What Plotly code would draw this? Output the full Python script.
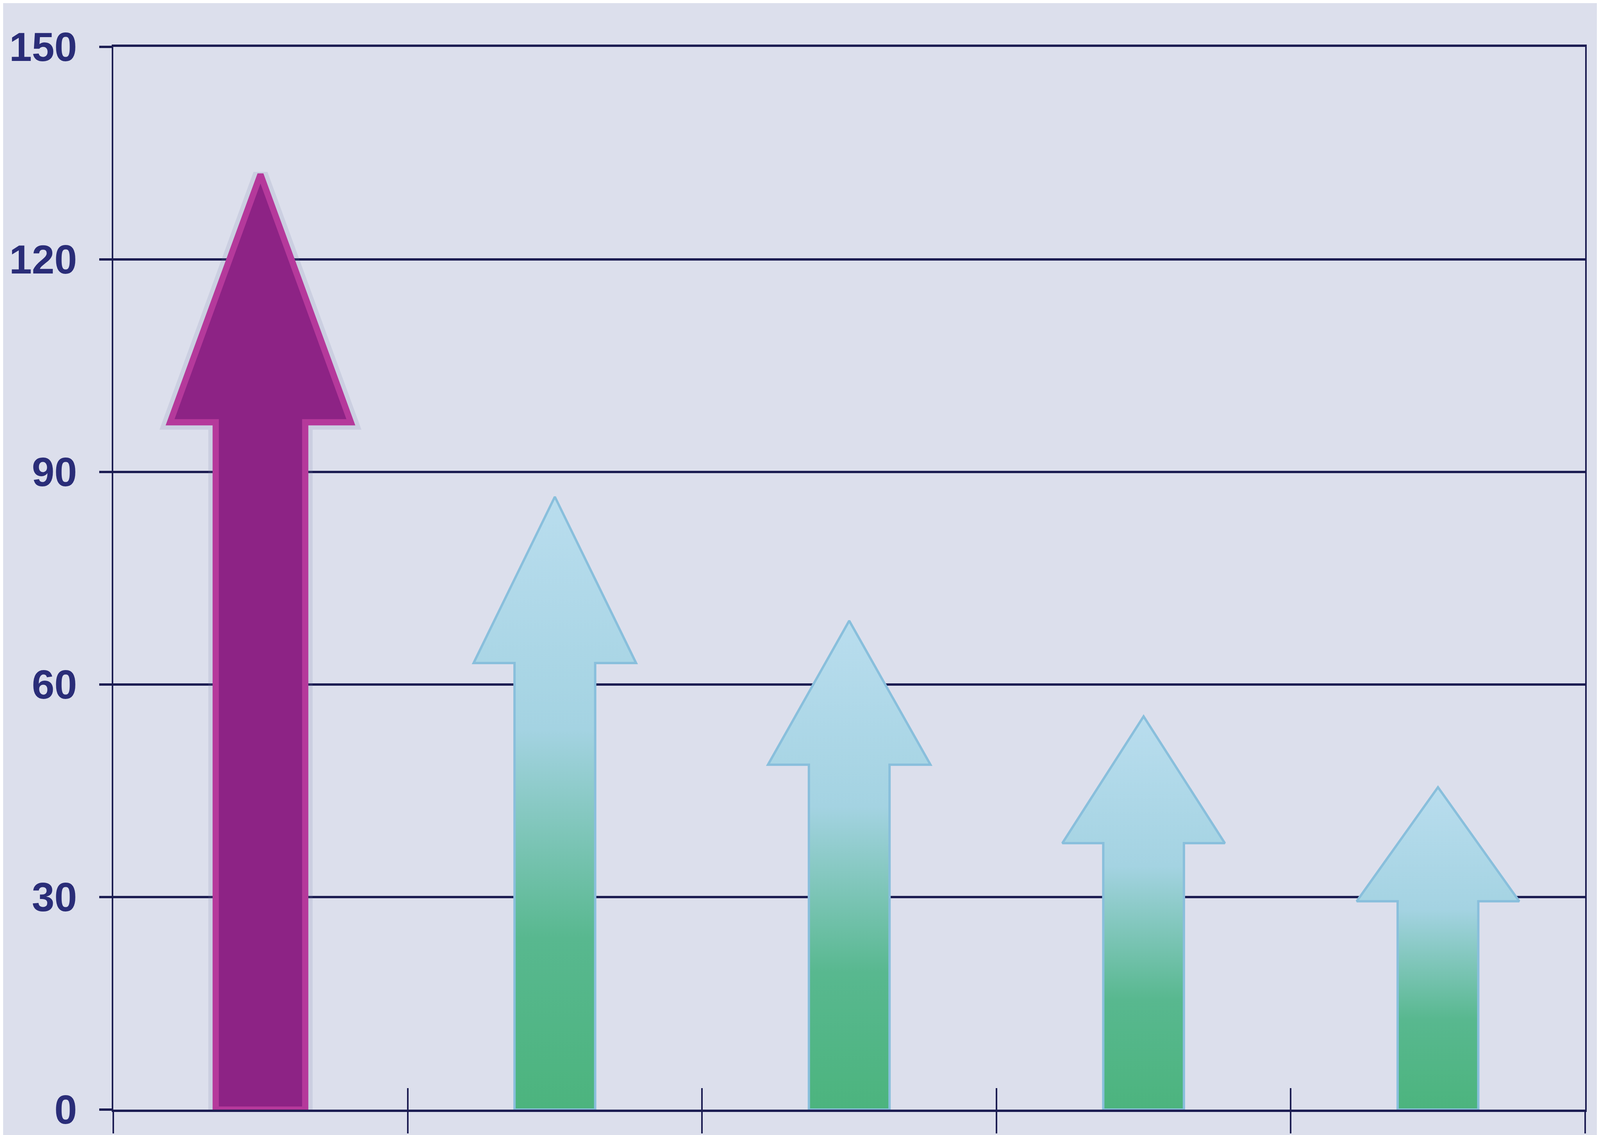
import plotly.graph_objects as go

# ---- data ----
categories = ["Item 1", "Item 2", "Item 3", "Item 4", "Item 5"]
values = [132, 86.5, 69, 55.5, 45.5]
highlight = [True, False, False, False, False]
y_ticks = [0, 30, 60, 90, 120, 150]

# ---- styles ----
W, H = 4096, 2905        # viewport actually available in the browser
SX = W / 6266            # horizontal scale from reference px to page px
BG = "#dcdfec"
GRID = "#1c1d52"
LABEL = "#2a2d78"
PURPLE_FILL = "#8d2385"
PURPLE_EDGE = "#b5399b"
GREEN_EDGE = "#89bfdc"
GREEN_SCALE = [[0.0, "#4cb47e"], [0.28, "#58b88f"], [0.62, "#a4d3e2"], [1.0, "#b9ddee"]]


def arrow_path(i, v, shaft_half, head_half, head_len):
    base = v - head_len
    xs = [i - shaft_half, i - shaft_half, i - head_half, i, i + head_half,
          i + shaft_half, i + shaft_half, i - shaft_half]
    ys = [0, base, base, v, base, base, 0, 0]
    return xs, ys


fig = go.Figure()

for i, (cat, v, hl) in enumerate(zip(categories, values, highlight)):
    if hl:
        xs, ys = arrow_path(i, v, 0.152, 0.307, 0.265 * v)
        # soft shadow
        fig.add_trace(go.Scatter(x=xs, y=ys, mode="lines",
                                 line=dict(color="rgba(120,125,170,0.16)", width=38),
                                 hoverinfo="skip", showlegend=False))
        fig.add_trace(go.Scatter(x=xs, y=ys, mode="lines", fill="toself",
                                 fillcolor=PURPLE_FILL, name=cat,
                                 line=dict(color=PURPLE_EDGE, width=16),
                                 showlegend=False))
    else:
        xs, ys = arrow_path(i, v, 0.137, 0.276, 7.9 + 0.18 * v)
        fig.add_trace(go.Scatter(x=xs, y=ys, mode="lines", fill="toself",
                                 fillgradient=dict(type="vertical", colorscale=GREEN_SCALE),
                                 name=cat,
                                 line=dict(color=GREEN_EDGE, width=6),
                                 showlegend=False))

# helper trace so the overlay axis (inner half of the category ticks) is drawn
fig.add_trace(go.Scatter(x=[None], y=[None], xaxis="x2", hoverinfo="skip", showlegend=False))

n = len(categories)
boundaries = [k - 0.5 for k in range(n + 1)]

fig.update_layout(
    width=W, height=H,
    margin=dict(l=int(432 * SX), r=int(71 * SX), t=112, b=73, pad=0),
    paper_bgcolor=BG, plot_bgcolor=BG,
    showlegend=False,
    xaxis=dict(range=[-0.5, n - 0.5], tickmode="array", tickvals=boundaries,
               ticks="outside", ticklen=55, tickwidth=4, tickcolor=GRID,
               showticklabels=False, showgrid=False, zeroline=False,
               showline=True, linecolor=GRID, linewidth=6, mirror=True,
               layer="below traces"),
    xaxis2=dict(range=[-0.5, n - 0.5], overlaying="x", anchor="y", side="bottom",
                tickmode="array", tickvals=boundaries,
                ticks="inside", ticklen=55, tickwidth=4, tickcolor=GRID,
                showticklabels=False, showgrid=False, zeroline=False, showline=False,
                layer="below traces"),
    yaxis=dict(range=[0, 150], tickmode="array", tickvals=y_ticks,
               ticks="outside", ticklen=int(50 * SX), tickwidth=6, tickcolor=GRID,
               showgrid=True, gridcolor=GRID, gridwidth=6, zeroline=False,
               showline=True, linecolor=GRID, linewidth=4, mirror=True,
               ticklabelstandoff=36, ticklabeloverflow="allow",
               tickfont=dict(family="Liberation Sans", size=104, color=LABEL, weight=700),
               layer="below traces"),
)

fig.write_html("out.html")
